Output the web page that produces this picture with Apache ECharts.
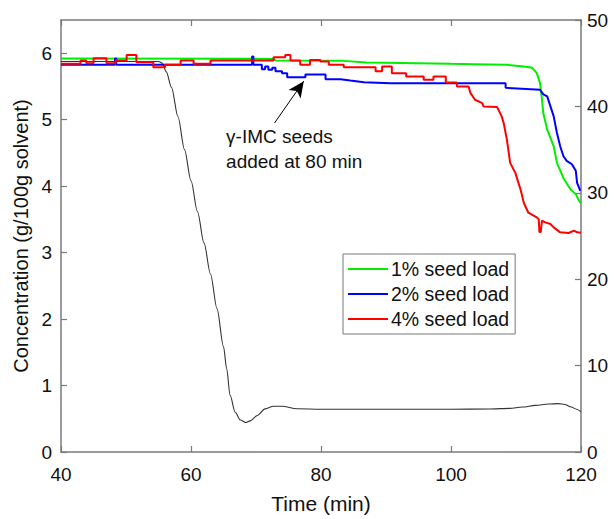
<!DOCTYPE html>
<html>
<head>
<meta charset="utf-8">
<script src="https://cdn.jsdelivr.net/npm/echarts@6/dist/echarts.min.js"></script>
<style>
html,body{margin:0;padding:0;background:#fff;}
#chart{width:614px;height:519px;}
</style>
</head>
<body>
<div id="chart"></div>
<script>
// ---- data (time in min, concentration g/100g solvent; temperature on right axis) ----
const xTicks = [40, 60, 80, 100, 120];
const leftTicks = [0, 1, 2, 3, 4, 5, 6];
const rightTicks = [0, 10, 20, 30, 40, 50];

const greenT = [40, 72.7, 73, 83.5, 87, 100, 103.5, 108.6, 111.2, 112.5, 113.2, 113.7, 114, 114.2, 114.8, 115.8, 116.3, 117.3, 118.4, 119.2, 119.7, 120];
const greenC = [5.92, 5.915, 5.89, 5.885, 5.86, 5.84, 5.835, 5.826, 5.8, 5.78, 5.7, 5.55, 5.3, 5.1, 4.85, 4.6, 4.35, 4.12, 3.95, 3.88, 3.78, 3.74];

const blueT = [40, 48.3, 48.3, 48.5, 48.5, 69.4, 69.4, 69.6, 69.6, 70.9, 70.9, 71.4, 71.4, 71.9, 71.9, 72.5, 72.5, 73, 73, 74, 74, 74.8, 74.8, 77.6, 77.6, 80.7, 80.7, 83, 84.5, 86.6, 90.7, 108.4, 108.4, 113.7, 114.2, 114.8, 115.3, 115.8, 116.3, 116.8, 117.3, 117.8, 118.6, 119.2, 119.4, 119.9];
const blueC = [5.826, 5.826, 5.92, 5.92, 5.826, 5.826, 5.95, 5.95, 5.826, 5.826, 5.76, 5.76, 5.8, 5.8, 5.75, 5.75, 5.78, 5.78, 5.73, 5.73, 5.7, 5.7, 5.64, 5.64, 5.68, 5.68, 5.61, 5.61, 5.59, 5.565, 5.55, 5.55, 5.48, 5.45, 5.38, 5.35, 5.2, 5.05, 4.8, 4.6, 4.45, 4.38, 4.33, 4.23, 4.05, 3.93];

const redT = [40, 43, 43, 43.9, 43.9, 45, 45, 47, 47, 48.4, 48.4, 50.1, 50.1, 51.6, 51.6, 54.2, 54.2, 56, 56, 58.4, 58.4, 60.4, 60.4, 63, 63, 72.7, 72.7, 74.5, 74.5, 75.3, 75.3, 76.8, 76.8, 78.3, 78.3, 79.9, 79.9, 81.2, 81.2, 83.5, 83.5, 88.4, 88.4, 89.4, 89.4, 90.9, 90.9, 93.1, 93.1, 95.8, 95.8, 97.3, 97.3, 99.2, 99.2, 100.9, 100.9, 102.7, 103, 103.7, 104.8, 105, 107.1, 107.8, 108.1, 108.6, 109.1, 109.9, 110.7, 111.2, 111.9, 113.2, 113.5, 113.6, 113.8, 114, 114.5, 115.3, 115.8, 116.8, 118.1, 118.9, 119.4, 120];
const redC = [5.84, 5.84, 5.89, 5.89, 5.85, 5.85, 5.925, 5.925, 5.85, 5.85, 5.89, 5.89, 5.975, 5.975, 5.865, 5.865, 5.79, 5.79, 5.825, 5.825, 5.89, 5.89, 5.84, 5.84, 5.89, 5.89, 5.94, 5.94, 5.975, 5.975, 5.89, 5.89, 5.825, 5.825, 5.9, 5.9, 5.875, 5.875, 5.825, 5.825, 5.79, 5.79, 5.73, 5.73, 5.8, 5.8, 5.7, 5.7, 5.65, 5.65, 5.6, 5.6, 5.65, 5.65, 5.56, 5.56, 5.5, 5.5, 5.4, 5.3, 5.25, 5.2, 5.19, 5.05, 4.95, 4.7, 4.35, 4.2, 3.95, 3.75, 3.6, 3.53, 3.5, 3.31, 3.31, 3.48, 3.455, 3.43, 3.38, 3.305, 3.295, 3.33, 3.305, 3.3];

const tempT = [40, 55, 55.6, 56.2, 57, 58, 59, 60, 61, 62, 63, 64, 65, 65.5, 66, 66.8, 67.6, 68.4, 69.1, 70.2, 71.4, 72.7, 74, 76.3, 80, 90, 100, 106, 109, 111, 113, 115, 116.5, 117.5, 118.5, 119.3, 120];
const tempV = [45.2, 45.2, 45.0, 44.0, 42.2, 38.8, 35.0, 31.4, 27.8, 24.2, 20.6, 16.6, 12.2, 9.6, 6.6, 4.6, 3.7, 3.42, 3.6, 4.23, 4.99, 5.3, 5.3, 5.0, 4.95, 4.95, 4.95, 4.98, 5.05, 5.2, 5.4, 5.55, 5.6, 5.5, 5.2, 4.95, 4.65];

const seriesNames = ['1% seed load', '2% seed load', '4% seed load'];
const annotationLines = ['γ-IMC seeds', 'added at 80 min'];
const arrowFrom = [72.85, 4.95];
const arrowTo = [77.35, 5.58];
const annotationAt = [65.4, 4.75];

const zip = (a, b) => a.map((v, i) => [v, b[i]]);

const FONT = '"Liberation Sans", Arial, sans-serif';
const axisCol = '#7a7a7a';
const txtCol = '#111';

const chart = echarts.init(document.getElementById('chart'), null, {renderer: 'svg', width: 614, height: 519});

const tickStyle = {show: true, inside: true, length: 6, lineStyle: {color: axisCol, width: 1.2}};

const option = {
  animation: false,
  backgroundColor: '#fff',
  grid: {left: 61, right: 33, top: 20, bottom: 65, containLabel: false},
  xAxis: [{
    type: 'value', min: 40, max: 120, interval: 20, position: 'bottom',
    name: 'Time (min)', nameLocation: 'middle', nameGap: 41,
    nameTextStyle: {fontFamily: FONT, fontSize: 21, color: txtCol},
    axisLine: {show: true, onZero: false, lineStyle: {color: axisCol, width: 1.5}},
    axisTick: tickStyle,
    axisLabel: {fontFamily: FONT, fontSize: 19, color: txtCol, margin: 13},
    splitLine: {show: false}
  }, {
    type: 'value', min: 40, max: 120, interval: 20, position: 'top',
    axisLine: {show: true, onZero: false, lineStyle: {color: axisCol, width: 1.5}},
    axisTick: tickStyle,
    axisLabel: {show: false},
    splitLine: {show: false}
  }],
  yAxis: [{
    type: 'value', min: 0, max: 6.5, interval: 1, position: 'left',
    name: 'Concentration (g/100g solvent)', nameLocation: 'middle', nameGap: 30,
    nameTextStyle: {fontFamily: FONT, fontSize: 20, color: txtCol},
    axisLine: {show: true, onZero: false, lineStyle: {color: axisCol, width: 1.5}},
    axisTick: tickStyle,
    axisLabel: {fontFamily: FONT, fontSize: 19, color: txtCol, margin: 9, showMaxLabel: false,
      formatter: v => (Number.isInteger(v) ? String(v) : '')},
    splitLine: {show: false}
  }, {
    type: 'value', min: 0, max: 50, interval: 10, position: 'right',
    axisLine: {show: true, onZero: false, lineStyle: {color: axisCol, width: 1.5}},
    axisTick: tickStyle,
    axisLabel: {fontFamily: FONT, fontSize: 19, color: txtCol, margin: 6},
    splitLine: {show: false}
  }],
  legend: {
    data: seriesNames,
    orient: 'vertical', left: 343, top: 254,
    backgroundColor: '#fff', borderColor: '#777', borderWidth: 1,
    padding: [5, 6, 5, 5],
    icon: 'rect', itemWidth: 40, itemHeight: 2, itemGap: 5,
    textStyle: {fontFamily: FONT, fontSize: 19.5, color: txtCol, padding: [0, 0, 0, -2]}
  },
  series: [
    {name: 'temperature', type: 'line', yAxisIndex: 1, data: zip(tempT, tempV), showSymbol: false,
     smooth: 0.3, smoothMonotone: 'x', lineStyle: {color: '#333', width: 1.1}, itemStyle: {color: '#333'}, z: 1},
    {name: seriesNames[0], type: 'line', data: zip(greenT, greenC), showSymbol: false,
     lineStyle: {color: '#00ee00', width: 2}, itemStyle: {color: '#00ee00'}, z: 2},
    {name: seriesNames[1], type: 'line', data: zip(blueT, blueC), showSymbol: false,
     lineStyle: {color: '#0000ff', width: 2}, itemStyle: {color: '#0000ff'}, z: 3,
     markLine: {silent: true, symbol: ['none', 'arrow'], symbolSize: [11, 16],
       lineStyle: {color: '#000', width: 1, type: 'solid'}, label: {show: false},
       data: [[{coord: arrowFrom}, {coord: arrowTo}]]}},
    {name: seriesNames[2], type: 'line', data: zip(redT, redC), showSymbol: false,
     lineStyle: {color: '#ff0000', width: 2}, itemStyle: {color: '#ff0000'}, z: 4}
  ]
};
chart.setOption(option);

const p = chart.convertToPixel({xAxisIndex: 0, yAxisIndex: 0}, annotationAt);
chart.setOption({
  graphic: [{
    type: 'text', left: p[0], top: p[1] - 12,
    style: {text: annotationLines.join('\n'), font: '19px ' + FONT, fill: txtCol, lineHeight: 25}
  }]
});
</script>
</body>
</html>
